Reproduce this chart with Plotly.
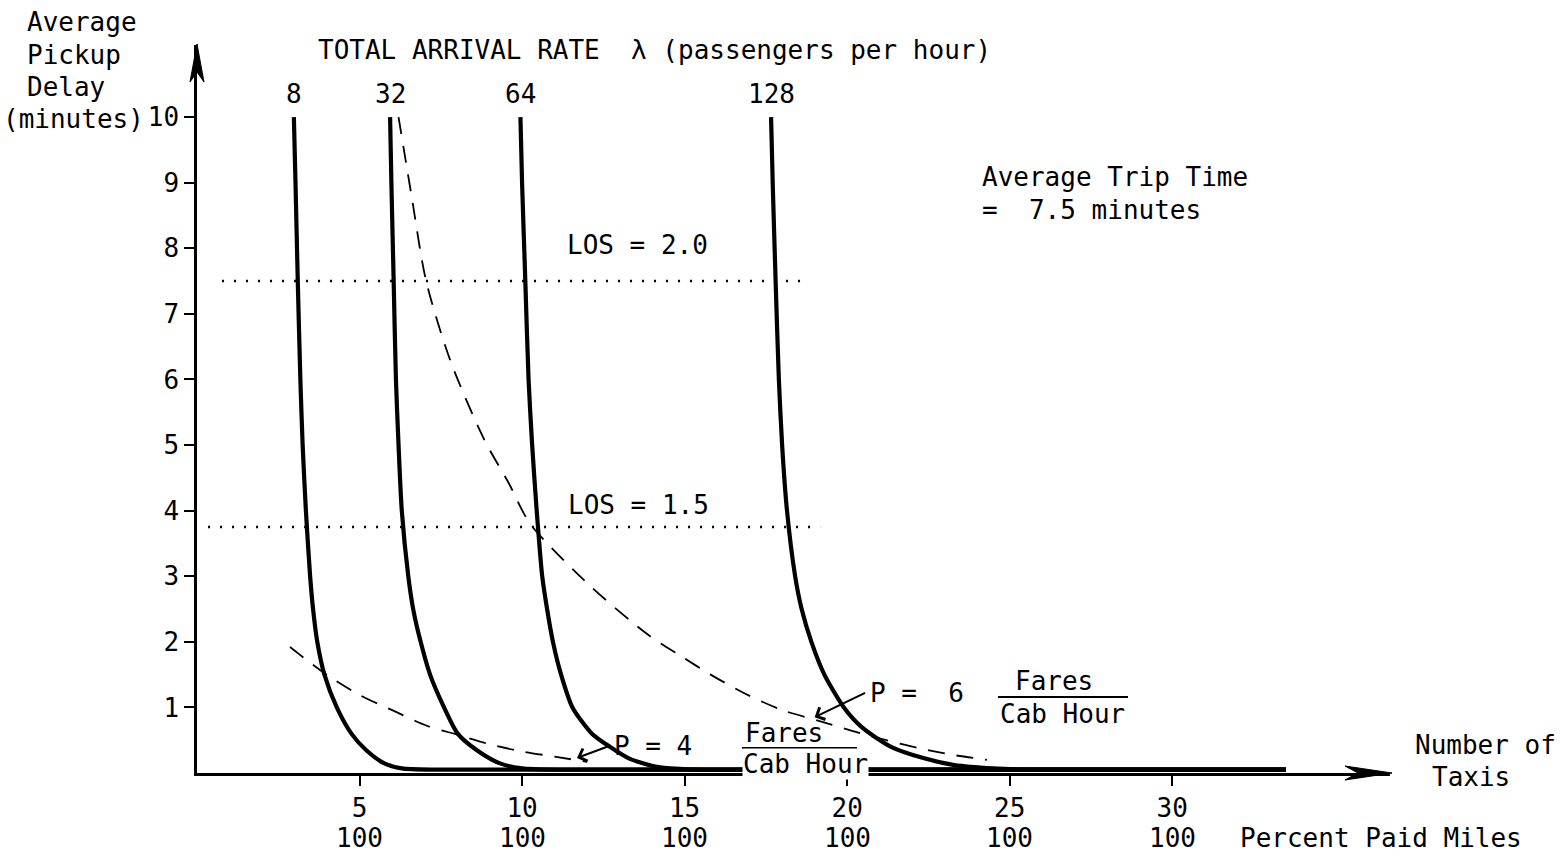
import plotly.graph_objects as go

# ---- canvas / plot-area geometry -------------------------------------------
W, H = 1564, 857
ML, MR, MT, MB = 197, 174, 45, 84
PW, PH = W - ML - MR, H - MT - MB
X_MAX, Y_MAX = 36.7, 11.1
FONT = "DejaVu Sans Mono"

# ---- data: average pickup delay (minutes) vs number of taxis ---------------
rate_labels = ["8", "32", "64", "128"]

taxis_8 = [2.98, 3.03, 3.1, 3.18, 3.25, 3.35, 3.48, 3.57, 3.7, 3.92, 4.3, 4.75, 5.2, 5.75, 6.3, 7.5, 33.5]
delay_8 = [10.0, 9.0, 7.5, 6.0, 5.0, 4.0, 3.0, 2.5, 2.0, 1.5, 1.0, 0.6, 0.35, 0.15, 0.07, 0.05, 0.05]

taxis_32 = [5.94, 5.98, 6.05, 6.12, 6.2, 6.3, 6.5, 6.65, 6.88, 7.17, 7.6, 8.02, 8.6, 9.3, 10.0, 11.5, 33.5]
delay_32 = [10.0, 9.0, 7.5, 6.0, 5.0, 4.0, 3.0, 2.5, 2.0, 1.5, 1.0, 0.6, 0.35, 0.15, 0.07, 0.05, 0.05]

taxis_64 = [9.95, 10.0, 10.1, 10.2, 10.31, 10.45, 10.62, 10.77, 10.95, 11.2, 11.55, 12.15, 12.7, 13.3, 14.1, 15.0, 16.5, 33.5]
delay_64 = [10.0, 9.0, 7.5, 6.0, 5.0, 4.0, 3.0, 2.5, 2.0, 1.5, 1.0, 0.6, 0.4, 0.22, 0.1, 0.06, 0.05, 0.05]

taxis_128 = [17.66, 17.71, 17.8, 17.9, 18.0, 18.15, 18.4, 18.6, 18.9, 19.3, 19.9, 20.45, 21.35, 22.4, 23.3, 24.5, 26.0, 33.5]
delay_128 = [10.0, 9.0, 7.5, 6.0, 5.0, 4.0, 3.0, 2.5, 2.0, 1.5, 1.0, 0.7, 0.4, 0.22, 0.12, 0.07, 0.05, 0.05]

rate_taxis = [taxis_8, taxis_32, taxis_64, taxis_128]
rate_delay = [delay_8, delay_32, delay_64, delay_128]

# iso-productivity curves (fares per cab hour)
fare_4_taxis = [2.86, 3.12, 4.04, 5.0, 6.04, 7.07, 8.04, 9.06, 9.99, 11.0, 12.0]
fare_4_delay = [1.92, 1.82, 1.48, 1.19, 0.95, 0.72, 0.58, 0.43, 0.33, 0.25, 0.17]

fare_6_taxis = [6.2, 6.6, 7.05, 7.8, 8.83, 9.6, 10.25, 12.1, 13.9, 14.9, 15.8, 16.9, 18.0, 19.1, 20.1, 21.2, 22.2, 23.2, 24.3]
fare_6_delay = [10.0, 8.8, 7.5, 6.28, 5.09, 4.41, 3.8, 2.85, 2.1, 1.78, 1.5, 1.2, 0.96, 0.8, 0.65, 0.5, 0.38, 0.28, 0.2]

# level-of-service thresholds
los_labels = ["LOS = 2.0", "LOS = 1.5"]
los_delay = [7.5, 3.75]
los_x_start = [0.77, 0.34]
los_x_end = [18.85, 19.17]
los_label_x = [13.55, 13.57]
los_label_y = [8.05, 4.09]

# axis ticks
x_ticks = [5, 10, 15, 20, 25, 30]
x_tick_den = "100"
y_ticks = [1, 2, 3, 4, 5, 6, 7, 8, 9, 10]


def px(x):
    return (x - ML) / PW


def py(y):
    return (H - MB - y) / PH


def label(text, x, y, xanchor="left", size=26, **kw):
    d = dict(text=text, xref="paper", yref="paper", x=px(x), y=py(y),
             xanchor=xanchor, yanchor="middle", showarrow=False,
             font=dict(family=FONT, size=size, color="black"))
    d.update(kw)
    return d


fig = go.Figure()

# LOS dotted lines
for yv, x0, x1 in zip(los_delay, los_x_start, los_x_end):
    fig.add_trace(go.Scatter(x=[x0, x1], y=[yv, yv], mode="lines",
                             line=dict(color="black", width=2.5, dash="2px,10px"),
                             hoverinfo="skip"))

# fare curves (dashed)
for xs, ys in [(fare_4_taxis, fare_4_delay), (fare_6_taxis, fare_6_delay)]:
    fig.add_trace(go.Scatter(x=xs, y=ys, mode="lines",
                             line=dict(color="black", width=1.8, dash="17px,12px",
                                       shape="spline", smoothing=0.8),
                             hoverinfo="skip"))

# arrival-rate curves (solid, heavy)
for xs, ys in zip(rate_taxis, rate_delay):
    fig.add_trace(go.Scatter(x=xs, y=ys, mode="lines",
                             line=dict(color="black", width=4.2,
                                       shape="spline", smoothing=0.7),
                             hoverinfo="skip"))

annotations = []

# rate labels above curve tops
for lab, xs, ys in zip(rate_labels, rate_taxis, rate_delay):
    annotations.append(dict(text=lab, x=xs[0], y=ys[0], xref="x", yref="y",
                            yanchor="bottom", yshift=6, showarrow=False,
                            font=dict(family=FONT, size=26, color="black")))

# LOS labels
for lab, lx, ly in zip(los_labels, los_label_x, los_label_y):
    annotations.append(dict(text=lab, x=lx, y=ly, xref="x", yref="y",
                            yanchor="middle", showarrow=False,
                            font=dict(family=FONT, size=26, color="black")))

# x tick denominators
for xv in x_ticks:
    annotations.append(dict(text=x_tick_den, x=xv, y=0, xref="x", yref="y",
                            yanchor="middle", yshift=-65, showarrow=False,
                            font=dict(family=FONT, size=26, color="black")))

annotations += [
    label("TOTAL ARRIVAL RATE\u00a0\u00a0λ (passengers per hour)", 654, 50, xanchor="center"),
    label("Average", 25, 22),
    label("Pickup", 25, 55),
    label("Delay", 25, 87),
    label("(minutes)", 146, 119, xanchor="right"),
    label("Average Trip Time", 980, 177),
    label("=\u00a0\u00a07.5 minutes", 980, 210),
    label("P = 4", 612, 746),
    label("Fares", 743, 733),
    label("Cab Hour", 742, 764, bgcolor="white", borderpad=0),
    label("P =\u00a0\u00a06", 868, 693),
    label("Fares", 1013, 681),
    label("Cab Hour", 998, 714),
    label("Number of", 1413, 745),
    label("Taxis", 1430, 777),
    label("Percent Paid Miles", 1238, 838),
]

# pointer arrows from the P labels to their dashed curves
annotations.append(dict(text="", x=11.69, y=0.23, xref="x", yref="y",
                        ax=35, ay=-13, showarrow=True, arrowhead=4,
                        arrowsize=1.3, arrowwidth=2, arrowcolor="black"))
annotations.append(dict(text="", x=19.0, y=0.85, xref="x", yref="y",
                        ax=52, ay=-25, showarrow=True, arrowhead=4,
                        arrowsize=1.3, arrowwidth=2, arrowcolor="black"))

shapes = [
    # fraction bars
    dict(type="line", xref="paper", yref="paper", x0=px(742), x1=px(857),
         y0=py(748), y1=py(748), line=dict(color="black", width=2)),
    dict(type="line", xref="paper", yref="paper", x0=px(998), x1=px(1128),
         y0=py(697), y1=py(697), line=dict(color="black", width=2)),
    # axis arrowheads
    dict(type="path", xref="paper", yref="paper", fillcolor="black",
         line=dict(color="black", width=1),
         path=f"M {px(197)},{py(44)} L {px(190)},{py(82)} L {px(197)},{py(72)} "
              f"L {px(204)},{py(82)} Z"),
    dict(type="path", xref="paper", yref="paper", fillcolor="black",
         line=dict(color="black", width=1),
         path=f"M {px(1392)},{py(773)} L {px(1345)},{py(766)} L {px(1358)},{py(773)} "
              f"L {px(1345)},{py(780)} Z"),
]

fig.update_layout(
    width=W, height=H,
    margin=dict(l=ML, r=MR, t=MT, b=MB, autoexpand=False),
    paper_bgcolor="white", plot_bgcolor="white",
    showlegend=False,
    annotations=annotations,
    shapes=shapes,
    font=dict(family=FONT, size=26, color="black"),
)

fig.update_xaxes(range=[0, X_MAX], showgrid=False, zeroline=False,
                 showline=True, linecolor="black", linewidth=2.5,
                 ticks="outside", ticklen=10, tickwidth=2, tickcolor="black",
                 tickvals=x_ticks, ticktext=[str(v) for v in x_ticks],
                 tickfont=dict(family=FONT, size=26, color="black"))
fig.update_yaxes(range=[0, Y_MAX], showgrid=False, zeroline=False,
                 showline=True, linecolor="black", linewidth=2.5,
                 ticks="outside", ticklen=10, tickwidth=2, tickcolor="black",
                 tickvals=y_ticks, ticktext=[str(v) for v in y_ticks],
                 tickfont=dict(family=FONT, size=26, color="black"))

fig.write_html("out.html")
